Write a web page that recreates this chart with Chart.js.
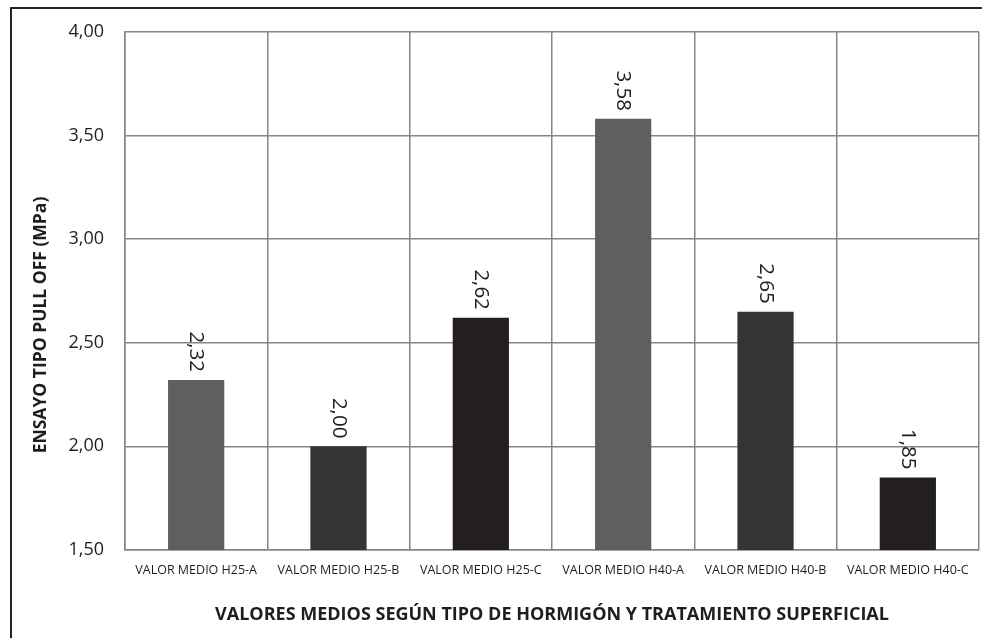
<!DOCTYPE html>
<html>
<head>
<meta charset="utf-8">
<script src="https://cdn.jsdelivr.net/npm/chart.js@4.4.0/dist/chart.umd.min.js"></script>
<style>
  html, body { margin: 0; padding: 0; background: #fff; }
  #wrap { position: relative; width: 982px; height: 638px; overflow: hidden; }
  #frame { position: absolute; left: 10px; top: 7px; width: 1000px; height: 700px;
           border-left: 2px solid #222; border-top: 2px solid #222; }
  canvas { position: absolute; left: 0; top: 0; }
</style>
</head>
<body>
<div id="wrap">
  <div id="frame"></div>
  <canvas id="myChart" width="982" height="638"></canvas>
</div>
<script>
const categories = ['VALOR MEDIO H25-A', 'VALOR MEDIO H25-B', 'VALOR MEDIO H25-C',
                    'VALOR MEDIO H40-A', 'VALOR MEDIO H40-B', 'VALOR MEDIO H40-C'];
const values = [2.32, 2.00, 2.62, 3.58, 2.65, 1.85];
const barColors = ['#5f5f61', '#343434', '#231f20', '#5f5f61', '#343434', '#231f20'];
const yTitle = 'ENSAYO TIPO PULL OFF (MPa)';
const xTitle = 'VALORES MEDIOS SEGÚN TIPO DE HORMIGÓN Y TRATAMIENTO SUPERFICIAL';

const fontFamily = '"Open Sans", sans-serif';
const gridColor = '#868686';

function fmt(v) {
    return v.toFixed(2).replace('.', ',');
}

// vertical value labels above each bar, and the y axis title (sits a bit low in the original)
const barLabels = {
    id: 'barLabels',
    afterDatasetsDraw(chart) {
        const ctx = chart.ctx;
        const meta = chart.getDatasetMeta(0);
        ctx.save();
        ctx.font = '20.5px ' + fontFamily;
        ctx.fillStyle = '#1e1e1e';
        meta.data.forEach((bar, i) => {
            ctx.save();
            ctx.translate(bar.x, bar.y - 8);
            ctx.rotate(Math.PI / 2);
            ctx.textAlign = 'right';
            ctx.textBaseline = 'middle';
            ctx.fillText(fmt(values[i]), 0, 0);
            ctx.restore();
        });

        ctx.save();
        ctx.font = 'bold 17.5px ' + fontFamily;
        ctx.translate(41, 325);
        ctx.rotate(-Math.PI / 2);
        ctx.textAlign = 'center';
        ctx.textBaseline = 'middle';
        ctx.fillText(yTitle, 0, 0);
        ctx.restore();
        ctx.restore();
    }
};

const ctx = document.getElementById('myChart').getContext('2d');
new Chart(ctx, {
    type: 'bar',
    data: {
        labels: categories,
        datasets: [{
            data: values,
            backgroundColor: barColors,
            borderWidth: 0,
            categoryPercentage: 1,
            barPercentage: 0.395
        }]
    },
    options: {
        responsive: false,
        animation: false,
        layout: { padding: { top: 31, right: 3, left: 0, bottom: 0 } },
        plugins: {
            legend: { display: false },
            tooltip: { enabled: false }
        },
        scales: {
            x: {
                grid: { color: gridColor, lineWidth: 1.5, offset: true, drawTicks: false },
                border: { color: gridColor, width: 1.5 },
                ticks: {
                    color: '#1e1e1e', padding: 13, maxRotation: 0, autoSkip: false,
                    font: { family: fontFamily, size: 12.5 }
                },
                title: {
                    display: true, text: xTitle, color: '#1e1e1e',
                    padding: { top: 12, bottom: 12 },
                    font: { family: fontFamily, size: 18, weight: 'bold' }
                },
                afterFit(scale) { scale.height = 88; }
            },
            y: {
                min: 1.5,
                max: 4.0,
                grid: { color: gridColor, lineWidth: 1.5, drawTicks: false },
                border: { color: gridColor, width: 1.5 },
                ticks: {
                    stepSize: 0.5, color: '#1e1e1e', padding: 21,
                    font: { family: fontFamily, size: 18 },
                    callback: v => fmt(v)
                },
                afterFit(scale) { scale.width = 125; }
            }
        }
    },
    plugins: [barLabels]
});
</script>
</body>
</html>
